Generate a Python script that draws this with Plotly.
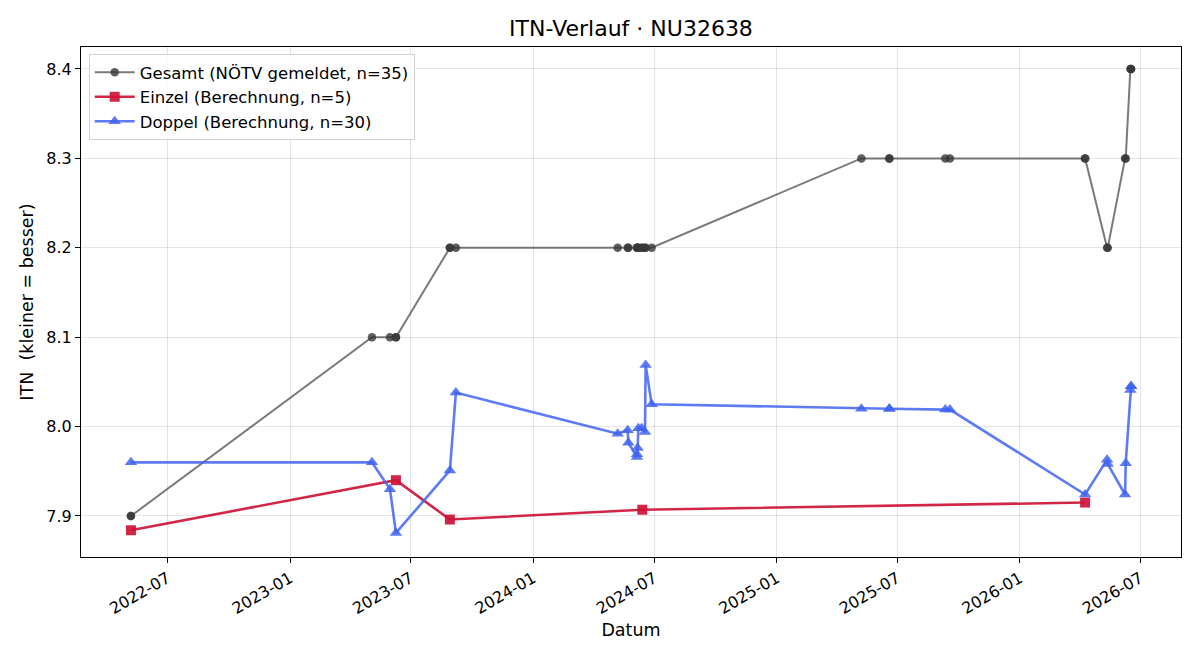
import plotly.graph_objects as go

# ---- data ----
gesamt_dates = [
    "2022-05-07", "2022-05-07", "2023-05-04", "2023-05-31", "2023-06-09", "2023-06-09",
    "2023-08-29", "2023-08-29", "2023-09-07",
    "2024-05-07", "2024-05-22", "2024-05-23", "2024-06-05", "2024-06-05", "2024-06-06",
    "2024-06-07", "2024-06-12", "2024-06-13", "2024-06-17", "2024-06-18", "2024-06-27",
    "2025-05-08", "2025-06-19", "2025-06-19", "2025-09-11", "2025-09-18",
    "2026-04-09", "2026-04-09", "2026-05-12", "2026-05-13", "2026-06-08", "2026-06-09",
    "2026-06-16", "2026-06-17", "2026-06-17",
]
gesamt_values = [
    7.9, 7.9, 8.1, 8.1, 8.1, 8.1,
    8.2, 8.2, 8.2,
    8.2, 8.2, 8.2, 8.2, 8.2, 8.2,
    8.2, 8.2, 8.2, 8.2, 8.2, 8.2,
    8.3, 8.3, 8.3, 8.3, 8.3,
    8.3, 8.3, 8.2, 8.2, 8.3, 8.3,
    8.4, 8.4, 8.4,
]

einzel_dates = ["2022-05-07", "2023-06-09", "2023-08-29", "2024-06-13", "2026-04-09"]
einzel_values = [7.884, 7.940, 7.896, 7.907, 7.915]

doppel_dates = [
    "2022-05-07", "2023-05-04", "2023-05-31", "2023-06-09", "2023-08-29", "2023-09-07",
    "2024-05-07", "2024-05-22", "2024-05-23", "2024-06-05", "2024-06-05", "2024-06-06",
    "2024-06-07", "2024-06-12", "2024-06-17", "2024-06-18", "2024-06-27",
    "2025-05-08", "2025-06-19", "2025-06-19", "2025-09-11", "2025-09-18",
    "2026-04-09", "2026-05-12", "2026-05-13", "2026-06-08", "2026-06-09",
    "2026-06-16", "2026-06-17", "2026-06-17",
]
doppel_values = [
    7.960, 7.960, 7.930, 7.881, 7.951, 8.038,
    7.992, 7.996, 7.982, 7.966, 7.969, 7.976,
    7.998, 7.998, 7.994, 8.069, 8.025,
    8.020, 8.020, 8.020, 8.019, 8.019,
    7.924, 7.963, 7.958, 7.924, 7.959,
    8.041, 8.045, 8.045,
]

y_ticks = [7.9, 8.0, 8.1, 8.2, 8.3, 8.4]
x_ticks = ["2022-07-01", "2023-01-01", "2023-07-01", "2024-01-01", "2024-07-01",
           "2025-01-01", "2025-07-01", "2026-01-01", "2026-07-01"]
x_ticklabels = ["2022-07", "2023-01", "2023-07", "2024-01", "2024-07",
                "2025-01", "2025-07", "2026-01", "2026-07"]

FONT = "DejaVu Sans"

fig = go.Figure()
fig.add_trace(go.Scatter(
    x=gesamt_dates, y=gesamt_values, mode="lines+markers",
    name="Gesamt (NÖTV gemeldet, n=35)",
    line=dict(color="rgba(70,70,70,0.72)", width=2),
    marker=dict(symbol="circle", size=8.5, color="rgba(55,55,55,0.8)", line=dict(width=0)),
))
fig.add_trace(go.Scatter(
    x=einzel_dates, y=einzel_values, mode="lines+markers",
    name="Einzel (Berechnung, n=5)",
    line=dict(color="rgba(205,20,55,0.92)", width=2.6),
    marker=dict(symbol="square", size=10, color="rgba(205,20,55,0.92)", line=dict(width=0)),
))
fig.add_trace(go.Scatter(
    x=doppel_dates, y=doppel_values, mode="lines+markers",
    name="Doppel (Berechnung, n=30)",
    line=dict(color="rgba(65,100,240,0.85)", width=2.6),
    marker=dict(symbol="triangle-up", size=11, color="rgba(65,100,240,0.85)", line=dict(width=0)),
))

fig.update_layout(
    width=1200, height=660,
    margin=dict(l=81, r=19, t=47, b=103),
    paper_bgcolor="white", plot_bgcolor="white",
    font=dict(family=FONT, size=16, color="black"),
    title=dict(text="ITN-Verlauf · NU32638", x=0.5, xref="paper", xanchor="center",
               y=1 - 28 / 660, yanchor="middle", font=dict(size=22, family=FONT)),
    showlegend=True,
    legend=dict(x=0.007, y=0.986, xanchor="left", yanchor="top",
                bgcolor="rgba(255,255,255,0.85)", bordercolor="rgb(210,210,210)", borderwidth=1,
                font=dict(size=16.5, family=FONT), tracegroupgap=0, itemwidth=40),
)
fig.update_xaxes(
    type="date", range=["2022-02-21", "2026-08-31"],
    tickmode="array", tickvals=x_ticks, ticktext=x_ticklabels, tickangle=-30,
    showgrid=True, gridcolor="rgba(0,0,0,0.1)", gridwidth=1,
    showline=True, linecolor="black", linewidth=1, mirror=True,
    ticks="outside", ticklen=5, tickcolor="black", tickfont=dict(size=16),
    title=dict(text="Datum", font=dict(size=17.5), standoff=6), zeroline=False,
)
fig.update_yaxes(
    range=[7.8541, 8.4246],
    tickmode="array", tickvals=y_ticks, ticktext=[f"{v:.1f}" for v in y_ticks],
    showgrid=True, gridcolor="rgba(0,0,0,0.1)", gridwidth=1,
    showline=True, linecolor="black", linewidth=1, mirror=True,
    ticks="outside", ticklen=5, tickcolor="black", tickfont=dict(size=16),
    title=dict(text="ITN  (kleiner = besser)", font=dict(size=17.5), standoff=8), zeroline=False,
)

fig.write_html("out.html")
